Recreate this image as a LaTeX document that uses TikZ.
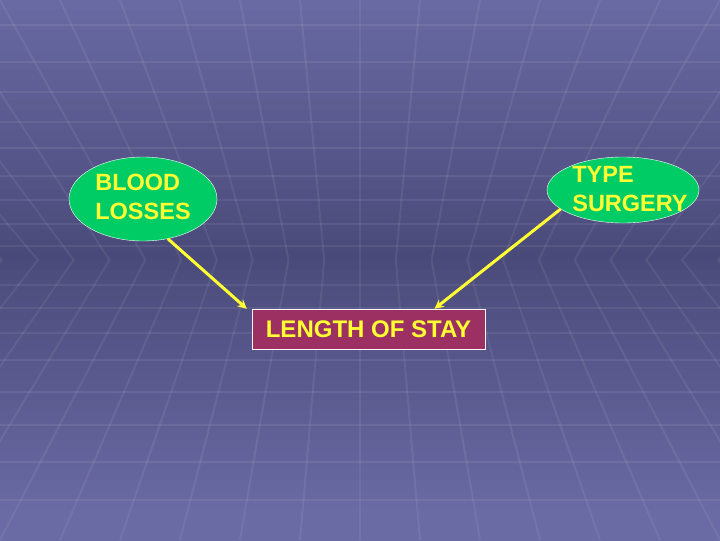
\documentclass[tikz,border=0pt]{standalone}
\usepackage{fontspec}
\setmainfont{Liberation Sans}
\usetikzlibrary{shapes.geometric, arrows}
\definecolor{slideedge}{HTML}{6A6AA4}
\definecolor{slidemid}{HTML}{4A4A7A}
\definecolor{causegreen}{HTML}{00CC66}
\definecolor{textyellow}{HTML}{FFFF33}
\definecolor{staymaroon}{HTML}{9C3062}
\tikzstyle{cause} = [ellipse, draw=white, thin, fill=causegreen, inner sep=0pt]
\tikzstyle{causetext} = [text=textyellow, font=\bfseries\fontsize{23.5}{29}\selectfont, align=left, inner sep=0pt]
\tikzstyle{outcome} = [rectangle, draw=white!85!pink, thin, fill=staymaroon, text=textyellow, font=\bfseries\fontsize{24}{26}\selectfont, minimum width=233pt, minimum height=40pt]
\tikzstyle{gridline} = [white, opacity=0.07, line width=2pt]
\tikzstyle{arrow} = [textyellow, line width=3pt, -stealth]

\begin{document}
\begin{tikzpicture}[x=1pt, y=-1pt]
    % slide background
    \foreach \k in {0,...,53}
    {
        \pgfmathtruncatemacro\p{min(100,abs(\k*10+5-255)/255*100)}
        \fill[slideedge!\p!slidemid] (0,\k*10) rectangle (720,\k*10+10.5);
    }
    \begin{scope}
        \clip (0,0) rectangle (720,540);
        \foreach \i in {-14,...,14}
        {
            \draw[gridline] ({360+\i*60},0) -- ({360+\i*35.8},260) -- ({360+\i*60},540);
        }
        \foreach \y in {25,62,92,122,148,176,200,224,246,285,308,333,360,392,425,462,500}
        {
            \draw[gridline] (0,\y) -- (720,\y);
        }
    \end{scope}
    \useasboundingbox (0,0) rectangle (720,540);

    \node (blood) [cause, minimum width=148pt, minimum height=84pt] at (143,199) {};
    \node (bloodtext) [causetext] at (143,197) {BLOOD\\LOSSES};
    \node (type) [cause, minimum width=152pt, minimum height=66pt] at (623,190) {};
    \node (typetext) [causetext] at (630,189) {TYPE\\SURGERY};
    \node (stay) [outcome] at (368.5,329) {LENGTH OF STAY};

    \draw[arrow] (blood.-58) -- ([xshift=-5pt]stay.north west);
    \draw[arrow] (type.197) -- ([xshift=66pt]stay.north);
\end{tikzpicture}
\end{document}
